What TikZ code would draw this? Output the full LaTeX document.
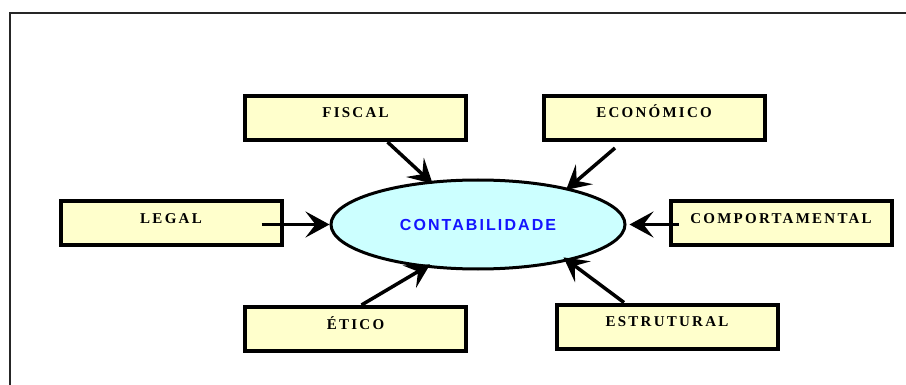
\documentclass[tikz,border=0pt]{standalone}
\usepackage{fontspec}
\setmainfont{Liberation Serif}
\newfontfamily\ovalfont[LetterSpace=13]{Liberation Sans}
\newfontfamily\boxfont[LetterSpace=15]{Liberation Serif}
\usetikzlibrary{arrows.meta,shapes.geometric}
\definecolor{boxfill}{RGB}{255,255,204}
\definecolor{ovalfill}{RGB}{204,255,255}
\definecolor{ovaltext}{RGB}{20,20,255}

\begin{document}
\begin{tikzpicture}[x=1pt,y=-1pt,
    areabox/.style = {shape=rectangle, draw, line width=4pt,
      fill=boxfill, minimum width=221pt, minimum height=44pt,
      text height=18pt, text depth=18pt, inner sep=2pt,
      font=\boxfont\fontsize{15}{15}\selectfont\bfseries},
    oval/.style = {shape=ellipse, draw, line width=3pt, fill=ovalfill,
      minimum width=294pt, minimum height=89pt, inner sep=0pt,
      text=ovaltext, font=\ovalfont\fontsize{16}{16}\selectfont\bfseries},
    pull/.style = {line width=3.5pt,
      -{Stealth[length=24pt,width=26pt,inset=10pt]}}]
    \useasboundingbox (0,0) rectangle (906,385);
    \draw[line width=2pt, black!85] (10,385) -- (10,13) -- (906,13);
    % centre
    \node[oval] (cont) at (478,224.5) {CONTABILIDADE};
    % areas
    \node[areabox] (fiscal) at (355.5,118) {FISCAL};
    \node[areabox] (econ)   at (654,118)   {ECONÓMICO};
    \node[areabox] (legal)  at (171,223.5) {LEGAL};
    \node[areabox] (comp)   at (781,223.5) {COMPORTAMENTAL};
    \node[areabox] (etico)  at (355.5,329) {ÉTICO};
    \node[areabox] (estrut) at (667,326.5) {ESTRUTURAL};
    % arrows
    \draw[pull, shorten >=-4pt] ([xshift=32pt]fiscal.south) -- (cont.138);
    \draw[pull, shorten >=-3pt] ([shift={(-39,6)}]econ.south) -- (cont.22);
    \draw[pull] ([shift={(-22,1)}]legal.east) -- (cont.west);
    \draw[pull, shorten >=3pt] ([shift={(10,1)}]comp.west) -- (cont.east);
    \draw[pull, shorten >=-6pt] ([xshift=6pt]etico.north) -- (cont.219);
    \draw[pull, shorten >=-6pt] ([xshift=-43pt]estrut.north) -- (cont.338);
\end{tikzpicture}
\end{document}
